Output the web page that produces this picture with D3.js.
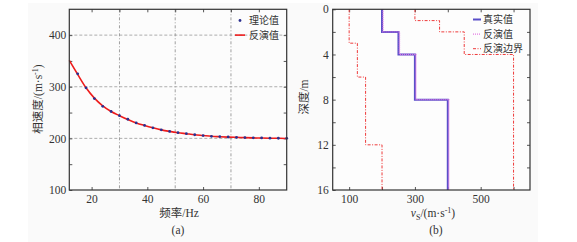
<!DOCTYPE html>
<html>
<head>
<meta charset="utf-8">
<script src="https://cdn.jsdelivr.net/npm/d3@7"></script>
<style>
  body { margin: 0; background: #fff; }
  svg text { font-family: "Liberation Serif", "Noto Sans CJK SC", serif; fill: #333; }
  .cjk { font-family: "Noto Sans CJK SC", sans-serif; }
</style>
</head>
<body>
<svg id="chart" width="577" height="242"></svg>
<script>
// 数据 (a): 频散曲线
const freqTheory = [15, 18, 21, 24, 27, 30, 33, 36, 39, 42, 45, 48, 51, 54, 57, 60, 63, 66, 69, 72, 75, 78, 81, 84, 87, 90];
const velTheory = [325, 298, 277, 262, 252, 244, 237, 230, 225, 220.5, 216.5, 213.5, 211, 209, 207, 205.5, 204, 203.4, 202.7, 202, 201.5, 201, 200.8, 200.4, 200.2, 200];
const freqInv = [12, 15, 18, 21, 24, 27, 30, 33, 36, 39, 42, 45, 48, 51, 54, 57, 60, 63, 66, 69, 72, 75, 78, 81, 84, 87, 90];
const velInv = [351, 324, 298, 278, 263, 252, 244, 236.5, 230, 225, 220.5, 216.5, 213.5, 211, 209, 207, 205.5, 204, 203.2, 202.5, 202, 201.4, 201, 200.6, 200.3, 200.1, 199.8];
const xTicksA = [20, 40, 60, 80];
const yTicksA = [100, 200, 300, 400];
const xGridA = [30, 50, 70];
const yGridA = [200, 300, 400];

// 数据 (b): 剪切波速度剖面 (层底深度, 速度)
const depthTrue = [0, 2, 4, 8, 16];
const vsTrue = [200, 250, 300, 400];
const depthInv = [0, 2, 4, 8, 16];
const vsInv = [203, 253, 303, 403];
const depthLow = [0, 3, 6, 12, 16];
const vsLow = [100, 125, 150, 200];
const depthHigh = [0, 1, 2, 4, 16];
const vsHigh = [300, 375, 450, 600];
const xTicksB = [100, 300, 500];
const yTicksB = [0, 4, 8, 12, 16];

const svg = d3.select("#chart");
svg.append("rect").attr("x", 28).attr("y", 3).attr("width", 510).attr("height", 239).attr("fill", "#fafafa");

// ---------- (a) ----------
const A = { l: 69.3, r: 286.7, t: 9.3, b: 190 };
const xA = d3.scaleLinear().domain([12, 90]).range([A.l, A.r]);
const yA = d3.scaleLinear().domain([100, 450]).range([A.b, A.t]);
const gA = svg.append("g");

gA.append("rect").attr("x", A.l).attr("y", A.t).attr("width", A.r - A.l).attr("height", A.b - A.t).attr("fill", "#fcfcfc");

// 网格
gA.selectAll(".gx").data(xGridA).enter().append("line")
  .attr("x1", d => xA(d)).attr("x2", d => xA(d)).attr("y1", A.t).attr("y2", A.b)
  .attr("stroke", "#888").attr("stroke-width", 0.8).attr("stroke-dasharray", "3,2,1,2");
gA.selectAll(".gy").data(yGridA).enter().append("line")
  .attr("x1", A.l).attr("x2", A.r).attr("y1", d => yA(d)).attr("y2", d => yA(d))
  .attr("stroke", "#999").attr("stroke-width", 0.8).attr("stroke-dasharray", "3,2");

// 坐标轴
function styleAxis(g) {
  g.select(".domain").remove();
  g.selectAll(".tick line").attr("stroke", "#555");
  g.selectAll("text").style("font-size", "11.5px").attr("fill", "#333");
}
gA.append("g").attr("transform", `translate(0,${A.b})`)
  .call(d3.axisBottom(xA).tickValues(xTicksA).tickSize(-3).tickPadding(5)).call(styleAxis);
gA.append("g").attr("transform", `translate(0,${A.t})`)
  .call(d3.axisTop(xA).tickValues(d3.range(20, 90, 10)).tickSize(-3).tickFormat("")).call(styleAxis);
gA.append("g").attr("transform", `translate(${A.l},0)`)
  .call(d3.axisLeft(yA).tickValues(yTicksA).tickSize(-3).tickPadding(3)).call(styleAxis);
gA.append("g").attr("transform", `translate(${A.l},0)`)
  .call(d3.axisLeft(yA).tickValues([150, 250, 350]).tickSize(-3).tickFormat("")).call(styleAxis);
gA.append("g").attr("transform", `translate(${A.r},0)`)
  .call(d3.axisRight(yA).tickValues(d3.range(150, 450, 50)).tickSize(-3).tickFormat("")).call(styleAxis);

// 反演曲线
const lineA = d3.line().x(d => xA(d[0])).y(d => yA(d[1])).curve(d3.curveMonotoneX);
gA.append("path").datum(d3.zip(freqInv, velInv)).attr("d", lineA)
  .attr("fill", "none").attr("stroke", "#ee1c1c").attr("stroke-width", 1.6);
// 理论值
gA.selectAll(".dot").data(d3.zip(freqTheory, velTheory)).enter().append("circle")
  .attr("cx", d => xA(d[0])).attr("cy", d => yA(d[1])).attr("r", 1.4).attr("fill", "#2b2f8f");

gA.append("rect").attr("x", A.l).attr("y", A.t).attr("width", A.r - A.l).attr("height", A.b - A.t)
  .attr("fill", "none").attr("stroke", "#333").attr("stroke-width", 1.2);

// 图例 (a)
const legAy0 = 20.5, legAstep = 14.6;
gA.append("circle").attr("cx", 240).attr("cy", legAy0).attr("r", 1.4).attr("fill", "#2b2f8f");
gA.append("line").attr("x1", 235).attr("x2", 245).attr("y1", legAy0 + legAstep).attr("y2", legAy0 + legAstep).attr("stroke", "#ee1c1c").attr("stroke-width", 1.6);
gA.append("text").attr("class", "cjk").attr("x", 249).attr("y", legAy0).attr("dy", "0.36em").style("font-size", "10px").text("理论值");
gA.append("text").attr("class", "cjk").attr("x", 249).attr("y", legAy0 + legAstep).attr("dy", "0.36em").style("font-size", "10px").text("反演值");

// 轴标题 (a)
const yLabA = gA.append("text").attr("transform", "translate(42,99) rotate(-90)").attr("text-anchor", "middle").style("font-size", "11.5px");
yLabA.append("tspan").attr("class", "cjk").text("相速度");
yLabA.append("tspan").text("/(m·s");
yLabA.append("tspan").attr("dy", "-4").style("font-size", "8px").text("-1");
yLabA.append("tspan").attr("dy", "4").text(")");
const xLabA = gA.append("text").attr("x", 179).attr("y", 213).attr("dy", "0.36em").attr("text-anchor", "middle").style("font-size", "11.5px");
xLabA.append("tspan").attr("class", "cjk").text("频率");
xLabA.append("tspan").text("/Hz");
gA.append("text").attr("x", 178).attr("y", 230).attr("dy", "0.36em").attr("text-anchor", "middle").style("font-size", "11.5px").text("(a)");

// ---------- (b) ----------
const B = { l: 332.7, r: 530, t: 9.3, b: 190 };
const xB = d3.scaleLinear().domain([50, 650]).range([B.l, B.r]);
const yB = d3.scaleLinear().domain([0, 16]).range([B.t, B.b]);
const gB = svg.append("g");
gB.append("rect").attr("x", B.l).attr("y", B.t).attr("width", B.r - B.l).attr("height", B.b - B.t).attr("fill", "#fdfdfd");

gB.append("g").attr("transform", `translate(0,${B.b})`)
  .call(d3.axisBottom(xB).tickValues(xTicksB).tickSize(-3).tickPadding(5)).call(styleAxis);
gB.append("g").attr("transform", `translate(0,${B.b})`)
  .call(d3.axisBottom(xB).tickValues([200, 400, 600]).tickSize(-3).tickFormat("")).call(styleAxis);
gB.append("g").attr("transform", `translate(0,${B.t})`)
  .call(d3.axisTop(xB).tickValues(d3.range(100, 650, 100)).tickSize(-3).tickFormat("")).call(styleAxis);
gB.append("g").attr("transform", `translate(${B.l},0)`)
  .call(d3.axisLeft(yB).tickValues(yTicksB).tickSize(-3).tickPadding(4)).call(styleAxis);
gB.append("g").attr("transform", `translate(${B.l},0)`)
  .call(d3.axisLeft(yB).tickValues([2, 6, 10, 14]).tickSize(-3).tickFormat("")).call(styleAxis);
gB.append("g").attr("transform", `translate(${B.r},0)`)
  .call(d3.axisRight(yB).tickValues(d3.range(2, 16, 2)).tickSize(-3).tickFormat("")).call(styleAxis);

// 阶梯剖面
function profile(depths, vs) {
  const pts = [];
  vs.forEach((v, i) => { pts.push([v, depths[i]]); pts.push([v, depths[i + 1]]); });
  return pts;
}
const lineB = d3.line().x(d => xB(d[0])).y(d => yB(d[1]));
const series = [
  { d: depthLow, v: vsLow, color: "#ee3b3b", w: 1, dash: "3,1.5,1,1.5" },
  { d: depthHigh, v: vsHigh, color: "#ee3b3b", w: 1, dash: "3,1.5,1,1.5" },
  { d: depthTrue, v: vsTrue, color: "#5a4fc9", w: 2, dash: null },
  { d: depthInv, v: vsInv, color: "#e47be4", w: 1.4, dash: "1,1" }
];
series.forEach(s => {
  gB.append("path").datum(profile(s.d, s.v)).attr("d", lineB)
    .attr("fill", "none").attr("stroke", s.color).attr("stroke-width", s.w)
    .attr("stroke-dasharray", s.dash);
});

gB.append("rect").attr("x", B.l).attr("y", B.t).attr("width", B.r - B.l).attr("height", B.b - B.t)
  .attr("fill", "none").attr("stroke", "#333").attr("stroke-width", 1.2);

// 图例 (b)
const legB = [
  { label: "真实值", color: "#5a4fc9", w: 2, dash: null },
  { label: "反演值", color: "#e47be4", w: 1.4, dash: "1,1" },
  { label: "反演边界", color: "#ee3b3b", w: 1, dash: "3,1.5,1,1.5" }
];
const legY0 = 19.5, legStep = 14.6;
legB.forEach((l, i) => {
  const y = legY0 + i * legStep;
  gB.append("line").attr("x1", 473).attr("x2", 481).attr("y1", y).attr("y2", y)
    .attr("stroke", l.color).attr("stroke-width", l.w).attr("stroke-dasharray", l.dash);
  gB.append("text").attr("class", "cjk").attr("x", 483).attr("y", y).attr("dy", "0.36em")
    .style("font-size", "10px").text(l.label);
});

// 轴标题 (b)
const yLabB = gB.append("text").attr("transform", "translate(308,97) rotate(-90)").attr("text-anchor", "middle").style("font-size", "11.5px");
yLabB.append("tspan").attr("class", "cjk").text("深度");
yLabB.append("tspan").text("/m");
const xLabB = gB.append("text").attr("x", 433).attr("y", 213).attr("dy", "0.36em").attr("text-anchor", "middle").style("font-size", "11.5px");
xLabB.append("tspan").style("font-style", "italic").text("v");
xLabB.append("tspan").attr("dy", "3").style("font-size", "8px").text("S");
xLabB.append("tspan").attr("dy", "-3").text("/(m·s");
xLabB.append("tspan").attr("dy", "-4").style("font-size", "8px").text("-1");
xLabB.append("tspan").attr("dy", "4").text(")");
gB.append("text").attr("x", 436).attr("y", 230).attr("dy", "0.36em").attr("text-anchor", "middle").style("font-size", "11.5px").text("(b)");
</script>
</body>
</html>
